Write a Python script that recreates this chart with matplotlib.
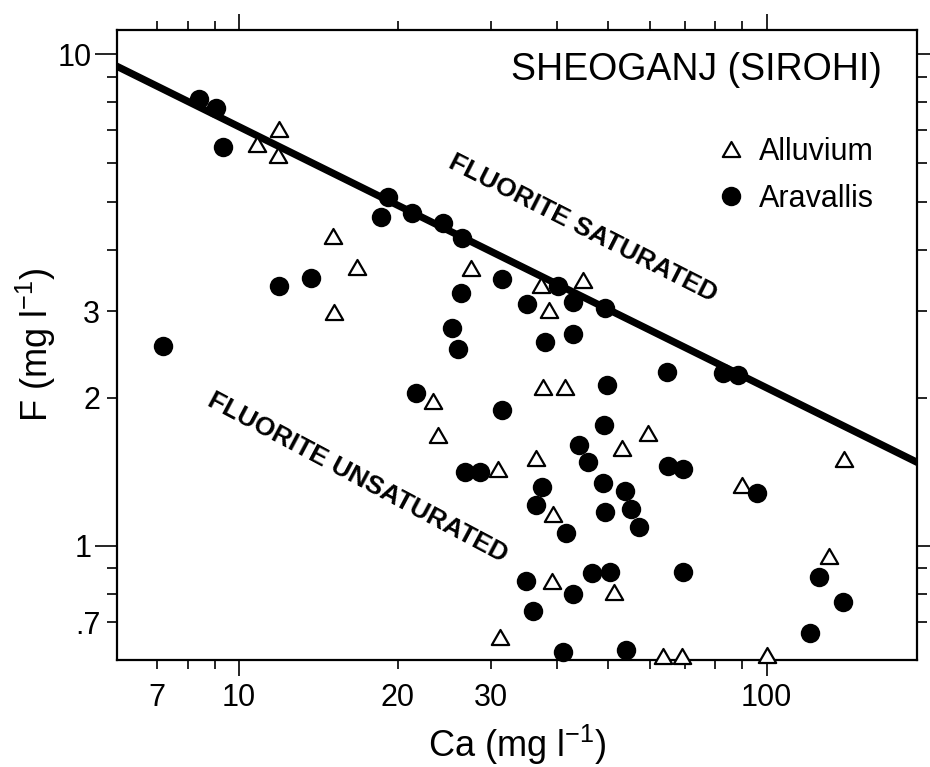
import numpy as np
import matplotlib
matplotlib.use("Agg")
import matplotlib.pyplot as plt
from matplotlib.path import Path
from matplotlib.ticker import FixedLocator, FixedFormatter

plt.rcParams['font.family'] = ['Liberation Sans', 'DejaVu Sans']
plt.rcParams['mathtext.fontset'] = 'custom'
plt.rcParams['mathtext.rm'] = 'Liberation Sans'
plt.rcParams['mathtext.default'] = 'regular'

# Aravallis (filled circles): Ca, F in mg/l
ara_ca = [7.18, 8.40, 9.04, 9.33, 11.9, 13.69, 19.15, 18.58, 21.27, 24.35,
          26.44, 26.33, 25.32, 25.99, 21.64, 31.48, 31.48, 35.12, 37.99, 40.21,
          42.92, 42.92, 49.32, 49.75, 64.65, 82.54, 88.1, 49.10, 44.06, 45.81,
          26.79, 28.6, 64.94, 69.32, 37.50, 48.89, 53.82, 36.52, 49.32, 55.25,
          41.63, 57.22, 96.1, 34.96, 46.62, 50.41, 69.32, 42.92, 36.05, 41.09,
          54.05, 125.5, 139.3, 120.6]
ara_f = [2.55, 8.10, 7.77, 6.47, 3.38, 3.50, 5.12, 4.66, 4.75, 4.53,
         4.23, 3.27, 2.77, 2.51, 2.05, 3.49, 1.89, 3.10, 2.60, 3.38,
         3.13, 2.69, 3.05, 2.12, 2.26, 2.25, 2.22, 1.76, 1.60, 1.48,
         1.41, 1.41, 1.45, 1.43, 1.32, 1.34, 1.29, 1.21, 1.17, 1.19,
         1.06, 1.09, 1.28, 0.849, 0.881, 0.885, 0.885, 0.799, 0.738, 0.609,
         0.615, 0.865, 0.769, 0.666]

# Alluvium (open triangles)
all_ca = [11.9, 10.82, 11.86, 15.07, 16.73, 15.13, 27.50, 37.33, 44.84, 38.66,
          23.3, 23.82, 37.66, 41.45, 59.51, 53.12, 36.52, 30.94, 39.34, 90.0,
          139.9, 131.1, 39.17, 51.30, 31.21, 63.53, 69.02, 100.0]
all_f = [7.04, 6.56, 6.23, 4.27, 3.69, 2.99, 3.67, 3.39, 3.47, 3.02,
         1.97, 1.68, 2.10, 2.10, 1.70, 1.58, 1.51, 1.43, 1.16, 1.33,
         1.50, 0.954, 0.849, 0.806, 0.653, 0.598, 0.598, 0.600]

# fluorite saturation line (end points)
line_ca = [5.8, 195.0]
line_f = [9.5, 1.47]

xmaj = [10, 100]
xmaj_lab = ["10", "100"]
xmin = [7, 8, 9, 20, 30, 40, 50, 60, 70, 80, 90]
xmin_lab = ["7", "", "", "20", "30", "", "", "", "", "", ""]
ymaj = [1, 10]
ymaj_lab = ["1", "10"]
ymin = [0.7, 0.8, 0.9, 2, 3, 4, 5, 6, 7, 8, 9]
ymin_lab = [".7", "", "", "2", "3", "", "", "", "", "", ""]

fig = plt.figure(figsize=(9.3, 7.67), dpi=100)
ax = fig.add_axes([117/930, 107/767, 800/930, 630/767])
ax.set_xscale('log')
ax.set_yscale('log')
ax.set_xlim(5.87, 192.8)
ax.set_ylim(0.586, 11.19)

ax.plot(line_ca, line_f, color='black', lw=5.2, solid_capstyle='butt', zorder=2)

# equilateral open triangle
tri = Path([(-1, -0.866), (1, -0.866), (0, 0.866), (-1, -0.866)], closed=True)
ax.plot(all_ca, all_f, linestyle='none', marker=tri, markersize=12.5,
        markerfacecolor='white', markeredgecolor='black', markeredgewidth=1.6,
        label='Alluvium', clip_on=False, zorder=3)
ax.plot(ara_ca, ara_f, linestyle='none', marker='o', markersize=14,
        markerfacecolor='black', markeredgewidth=0, label='Aravallis',
        clip_on=False, zorder=4)

ax.xaxis.set_major_locator(FixedLocator(xmaj))
ax.xaxis.set_major_formatter(FixedFormatter(xmaj_lab))
ax.xaxis.set_minor_locator(FixedLocator(xmin))
ax.xaxis.set_minor_formatter(FixedFormatter(xmin_lab))
ax.yaxis.set_major_locator(FixedLocator(ymaj))
ax.yaxis.set_major_formatter(FixedFormatter(ymaj_lab))
ax.yaxis.set_minor_locator(FixedLocator(ymin))
ax.yaxis.set_minor_formatter(FixedFormatter(ymin_lab))

ax.tick_params(which='both', direction='out', top=True, right=True,
               labelsize=22, width=1.2, color='black')
ax.tick_params(axis='x', which='major', length=11.5, pad=5)
ax.tick_params(axis='x', which='minor', length=6.5, pad=10)
ax.tick_params(axis='y', which='major', length=16, pad=2)
ax.tick_params(axis='y', which='minor', length=7, pad=5)
for s in ax.spines.values():
    s.set_linewidth(1.6)

ax.set_xlabel(r'Ca (mg l$^{-1}$)', fontsize=26, labelpad=7)
ax.set_ylabel(r'F (mg l$^{-1}$)', fontsize=26, labelpad=0)

ax.text(0.956, 0.937, 'SHEOGANJ (SIROHI)', transform=ax.transAxes,
        ha='right', va='center', fontsize=27)

ax.text(44.8, 4.43, 'FLUORITE SATURATED', rotation=-27, rotation_mode='anchor',
        ha='center', va='center', fontsize=19, fontweight='bold')
ax.text(16.8, 1.375, 'FLUORITE UNSATURATED', rotation=-28, rotation_mode='anchor',
        ha='center', va='center', fontsize=19, fontweight='bold')

ax.legend(loc='upper left', bbox_to_anchor=(0.749, 0.83), frameon=False,
          fontsize=22, handlelength=1.0, handletextpad=0.4, borderpad=0,
          borderaxespad=0, labelspacing=0.55, numpoints=1)

plt.savefig("out.png", dpi=100)
